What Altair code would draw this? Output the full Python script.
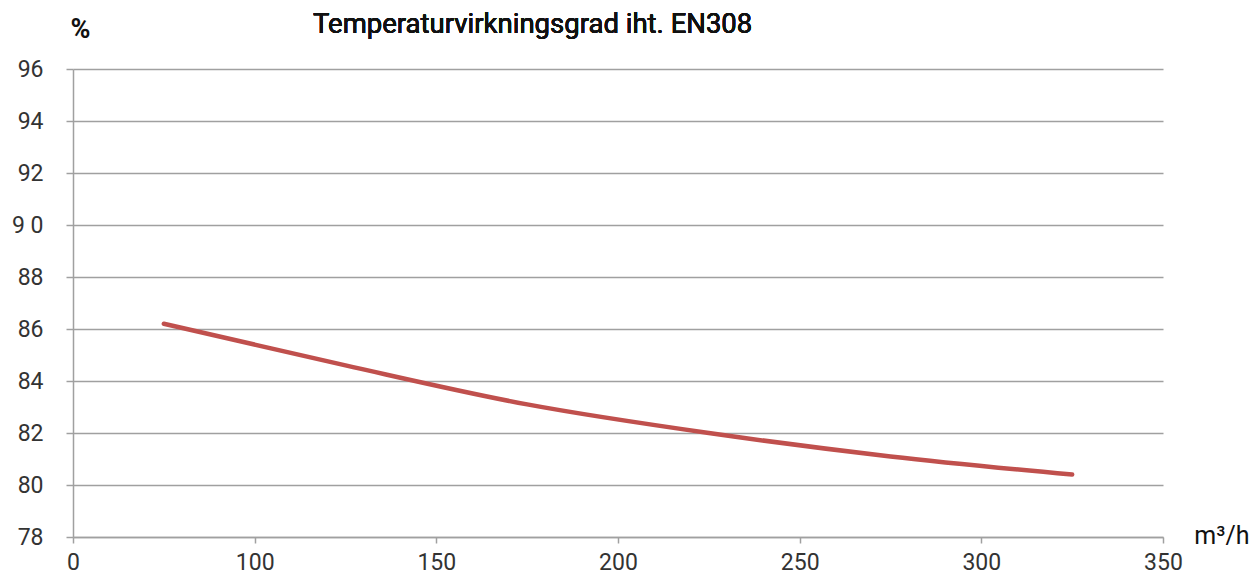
import altair as alt
import pandas as pd

flow = [75, 125, 175, 225, 275, 325]
efficiency = [86.2, 84.6, 83.1, 82.0, 81.1, 80.4]
x_ticks = [50, 100, 150, 200, 250, 300, 350]
y_ticks = [78, 80, 82, 84, 86, 88, 90, 92, 94, 96]
title_text = "Temperaturvirkningsgrad iht. EN308"

df = pd.DataFrame({"flow": flow, "eff": efficiency})

FONT = "Roboto"
GRID = "#a0a0a0"

line = alt.Chart(df).mark_line(
    color="#C0504D", strokeWidth=4.5, strokeCap="round", interpolate="monotone"
).encode(
    x=alt.X("flow:Q",
            scale=alt.Scale(domain=[50, 350], nice=False, zero=False),
            axis=alt.Axis(values=x_ticks, grid=False,
                          labelExpr="datum.value == 50 ? '0' : datum.label",
                          domainColor=GRID, domainWidth=1.5,
                          tickColor=GRID, tickWidth=1.5, tickSize=6,
                          labelFont=FONT, labelFontSize=23, labelColor="#333333",
                          labelPadding=8, labelFlush=False,
                          title="m³/h", titleFont=FONT, titleFontSize=25,
                          titleFontWeight="normal", titleColor="#111111",
                          titleX=1176, titleY=-2, titleAlign="right",
                          titleBaseline="middle")),
    y=alt.Y("eff:Q",
            scale=alt.Scale(domain=[78, 96], nice=False, zero=False),
            axis=alt.Axis(values=y_ticks,
                          labelExpr="datum.value == 90 ? '9 0' : datum.label",
                          grid=True, gridColor=GRID, gridWidth=1.5,
                          domainColor=GRID, domainWidth=1.5,
                          tickColor=GRID, tickWidth=1.5, tickSize=7,
                          labelFont=FONT, labelFontSize=23, labelColor="#333333",
                          labelPadding=23,
                          title="%", titleFont=FONT, titleFontSize=27,
                          titleFontWeight="bold", titleColor="#111111",
                          titleAngle=0, titleX=7, titleY=-40,
                          titleAlign="center", titleBaseline="middle")),
)

title = alt.Chart(df).mark_text(
    font=FONT, fontSize=27.5, fontWeight="normal", color="#111111",
    align="left", baseline="middle"
).encode(
    x=alt.value(240), y=alt.value(-44), text=alt.value(title_text)
)

chart = alt.layer(line, title).properties(
    width=1090, height=468,
    autosize=alt.AutoSizeParams(type="none"),
    padding={"left": 65, "top": 61, "right": 88, "bottom": 38},
).configure_view(stroke=None)

chart.save("out.html", embed_options={"renderer": "svg", "actions": False})
